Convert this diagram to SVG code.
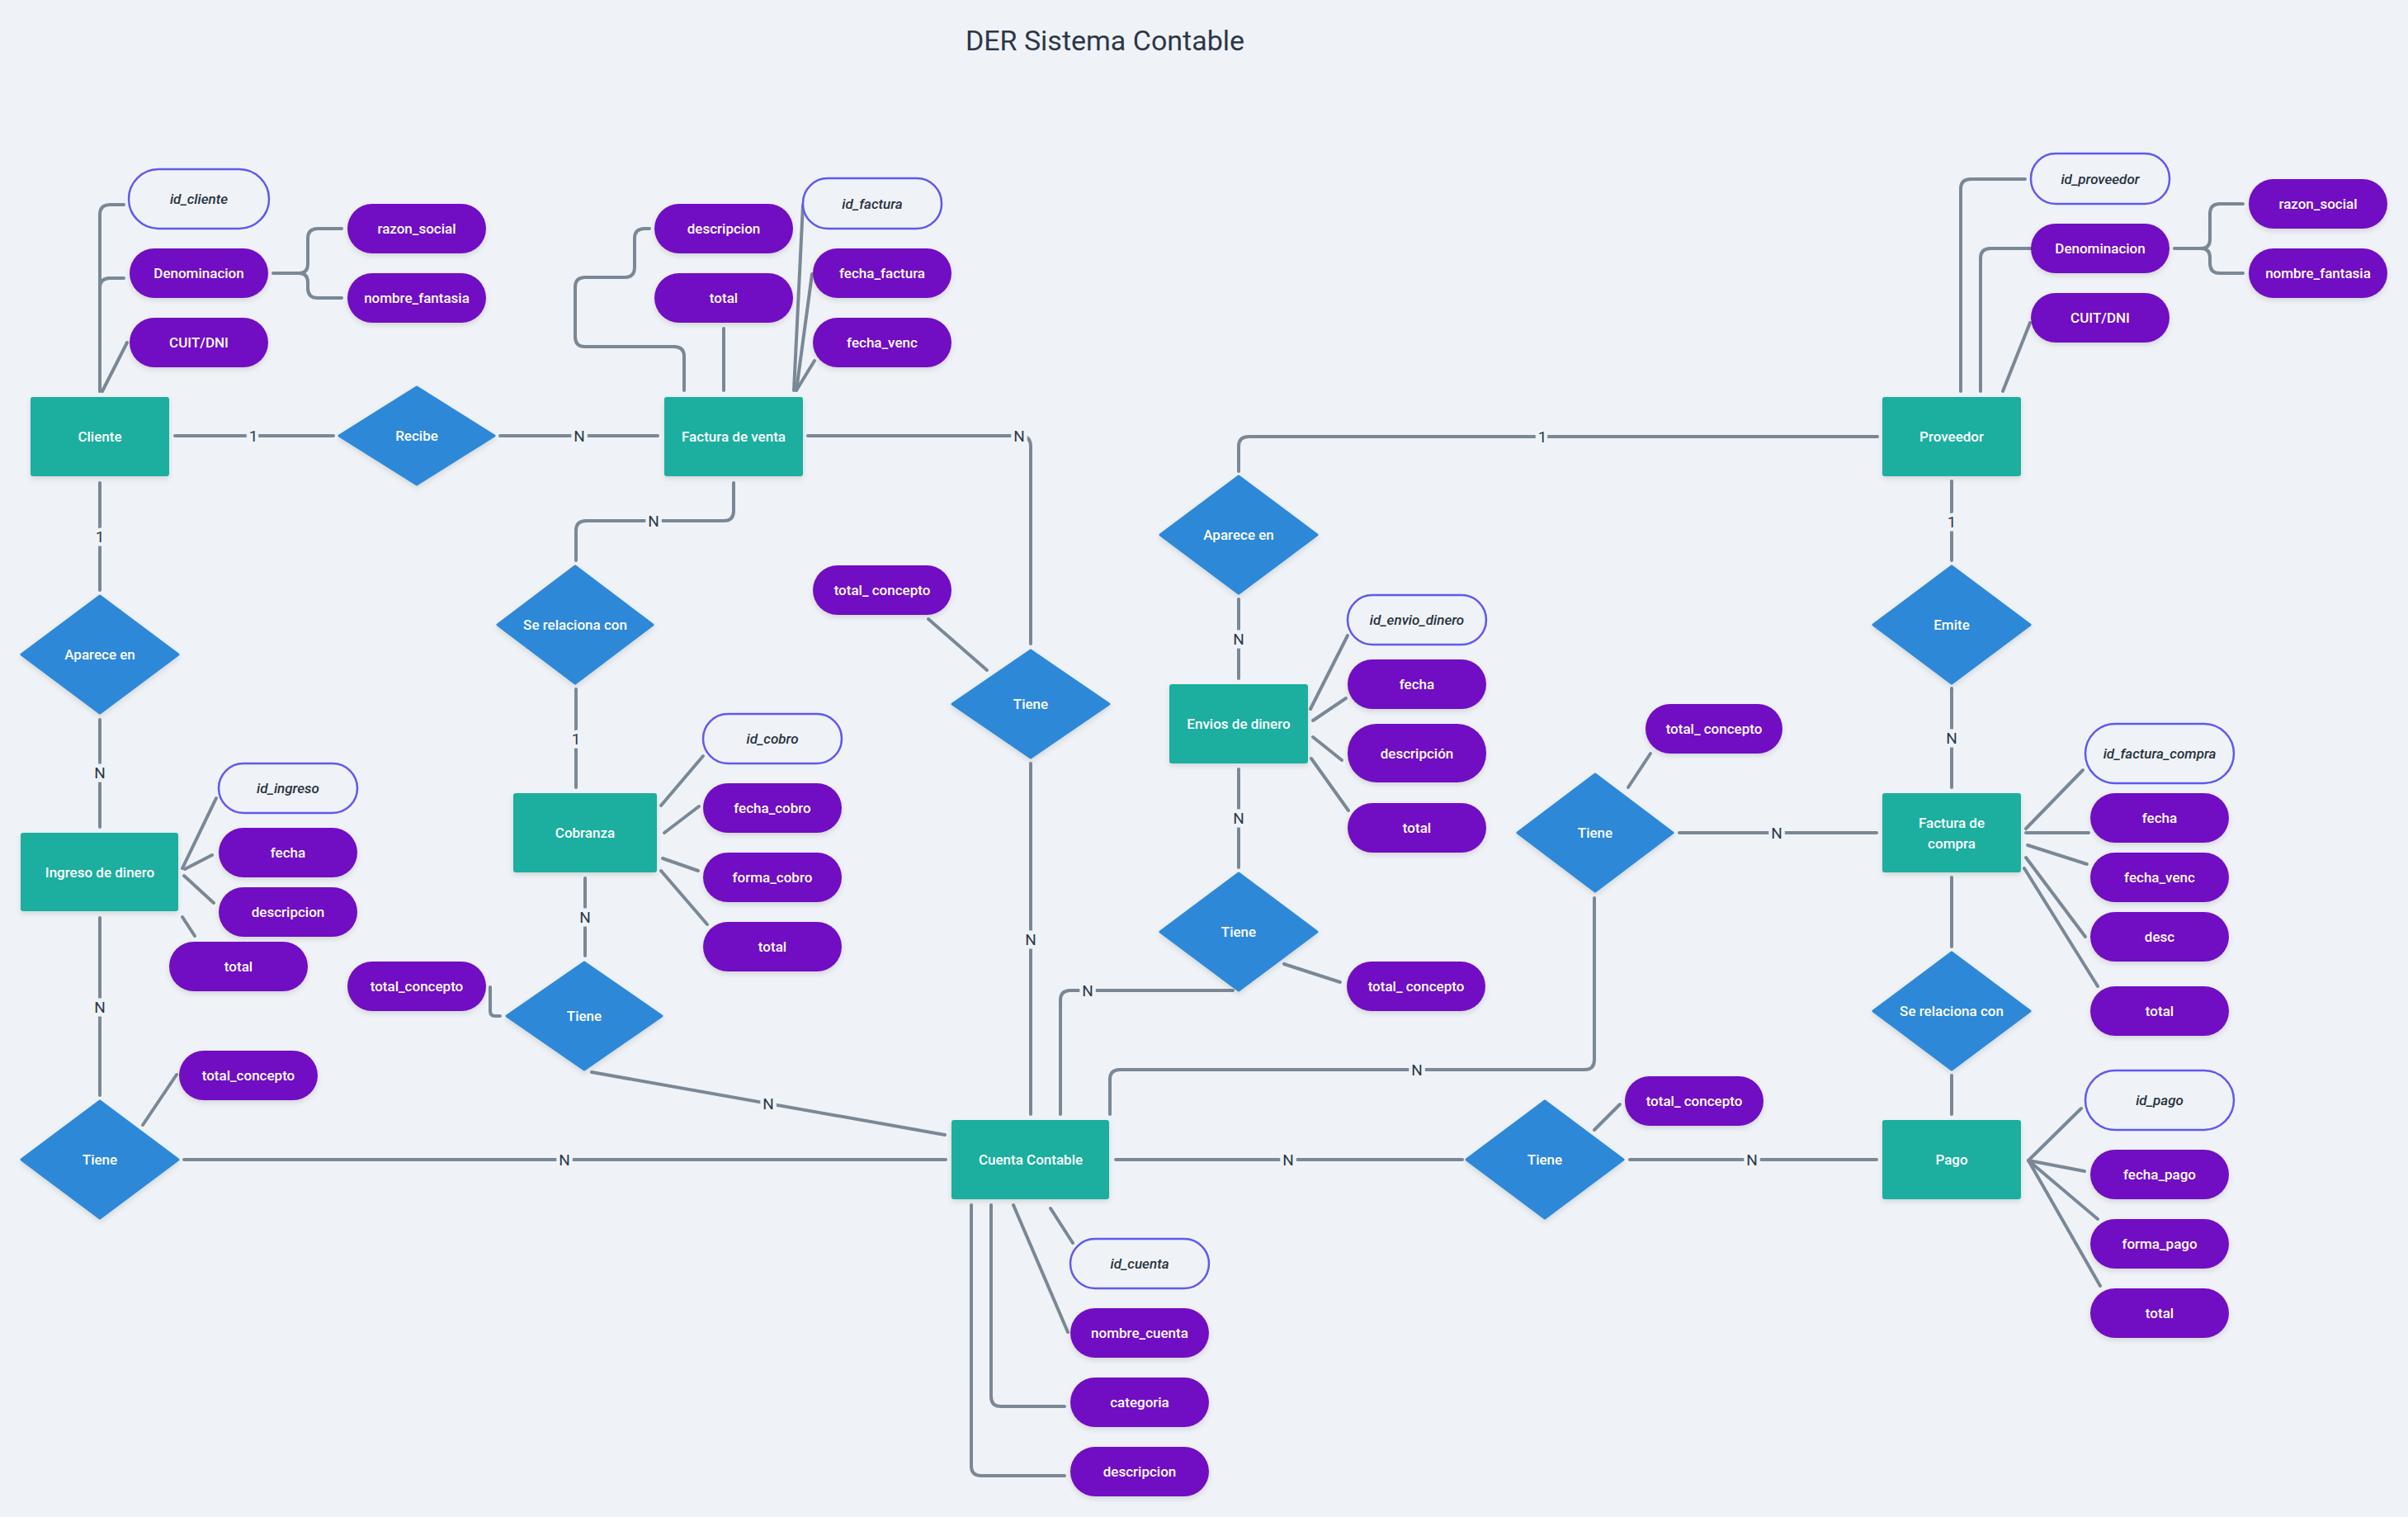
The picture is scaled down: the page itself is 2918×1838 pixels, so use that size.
<svg xmlns="http://www.w3.org/2000/svg" width="2918" height="1838" viewBox="0 0 2918 1838">
<style>
.bg{fill:#eff3f7}
.ent{fill:#1aae9f;filter:url(#sh)}
.rel{fill:#2e88d8;stroke:#2e88d8;stroke-width:3;stroke-linejoin:round;filter:url(#sh)}
.att{fill:#7110c2;filter:url(#sh)}
.key{fill:#eff3f7;stroke:#6158f0;stroke-width:2.5}
.t{font-family:Roboto,"Liberation Sans",sans-serif;font-size:17px;font-weight:500;fill:#ffffff;text-anchor:middle;dominant-baseline:central}
.tk{font-family:Roboto,"Liberation Sans",sans-serif;font-size:17px;font-weight:500;font-style:italic;fill:#27313d;text-anchor:middle;dominant-baseline:central}
.c path{fill:none;stroke:#7a8896;stroke-width:4;stroke-linecap:round;stroke-linejoin:round}
.lb{font-family:Roboto,"Liberation Sans",sans-serif;font-size:19px;fill:#2d3748;text-anchor:middle;dominant-baseline:central;stroke:#eff3f7;stroke-width:9;paint-order:stroke}
.title{font-family:Roboto,"Liberation Sans",sans-serif;font-size:34px;fill:#2d3748;text-anchor:middle}
</style>
<defs>
<filter id="sh" x="-20%" y="-20%" width="140%" height="150%">
<feDropShadow dx="0" dy="3" stdDeviation="3" flood-color="#000" flood-opacity="0.12"/>
</filter>
</defs>
<rect class="bg" x="0" y="0" width="2918" height="1838"/>
<text class="title" x="1339" y="61">DER Sistema Contable</text>

<g id="connectors" class="c">
<!-- Cliente -->
<path d="M121,474 V260 Q121,248 133,248 H150"/>
<path d="M121,474 V349 Q121,337 133,337 H150"/>
<path d="M124,474 L154,415"/>
<path d="M331,331 H362 Q373,331 373,320 V289 Q373,277 385,277 H414"/>
<path d="M362,331 Q373,331 373,342 V349 Q373,361 385,361 H414"/>
<path d="M212,528 H404"/>
<path d="M606,528 H797"/>
<path d="M121,585 V715"/>
<path d="M121,872 V1002"/>
<path d="M121,1112 V1327"/>
<path d="M223,1405 H1146"/>
<path d="M173,1363 L214,1302"/>
<path d="M221,1052 L262,967"/>
<path d="M224,1053 L257,1036"/>
<path d="M223,1061 L259,1094"/>
<path d="M221,1111 L236,1134"/>
<!-- Factura de venta -->
<path d="M829,473 V432 Q829,420 817,420 H709 Q697,420 697,408 V348 Q697,336 709,336 H757 Q769,336 769,324 V289 Q769,277 781,277 H787"/>
<path d="M877,398 V473"/>
<path d="M962,473 L973,248"/>
<path d="M965,473 L984,332"/>
<path d="M965,473 L987,437"/>
<path d="M979,528 H1236 Q1249,528 1249,541 V780"/>
<path d="M889,585 V619 Q889,631 877,631 H710 Q698,631 698,643 V679"/>
<path d="M698,835 V954"/>
<!-- Cobranza -->
<path d="M801,976 L852,916"/>
<path d="M805,1009 L847,977"/>
<path d="M803,1040 L846,1055"/>
<path d="M801,1055 L857,1120"/>
<path d="M709,1064 V1158"/>
<path d="M594,1196 V1225 Q594,1231 600,1231 H606"/>
<path d="M717,1299 L1145,1375"/>
<!-- Centro -->
<path d="M1125,750 L1196,812"/>
<path d="M1249,925 V1350"/>
<path d="M1285,1350 V1212 Q1285,1200 1297,1200 H1494"/>
<path d="M1345,1350 V1308 Q1345,1296 1357,1296 H1920 Q1932,1296 1932,1284 V1088"/>
<path d="M1352,1405 H1772"/>
<path d="M1975,1405 H2274"/>
<path d="M1932,1369 L1963,1338"/>
<!-- Cuenta Contable -->
<path d="M1273,1464 L1300,1506"/>
<path d="M1228,1460 L1294,1614"/>
<path d="M1201,1460 V1692 Q1201,1704 1213,1704 H1290"/>
<path d="M1177,1460 V1776 Q1177,1788 1189,1788 H1290"/>
<!-- Envios -->
<path d="M2275,529 H1513 Q1501,529 1501,541 V571"/>
<path d="M1501,726 V822"/>
<path d="M1501,932 V1051"/>
<path d="M1588,859 L1633,770"/>
<path d="M1591,873 L1631,846"/>
<path d="M1591,893 L1626,921"/>
<path d="M1589,919 L1634,982"/>
<path d="M1556,1168 L1624,1190"/>
<!-- Proveedor -->
<path d="M2376,474 V229 Q2376,217 2388,217 H2454"/>
<path d="M2400,474 V313 Q2400,301 2412,301 H2463"/>
<path d="M2427,474 L2460,391"/>
<path d="M2635,301 H2667 Q2678,301 2678,290 V259 Q2678,247 2690,247 H2718"/>
<path d="M2667,301 Q2678,301 2678,312 V319 Q2678,331 2690,331 H2718"/>
<path d="M2365,583 V679"/>
<path d="M2365,834 V954"/>
<path d="M2035,1009 H2274"/>
<path d="M1973,954 L2000,913"/>
<path d="M2365,1063 V1147"/>
<path d="M2365,1303 V1350"/>
<!-- Factura de compra -->
<path d="M2455,1004 L2524,933"/>
<path d="M2455,1009 H2531"/>
<path d="M2457,1024 L2529,1047"/>
<path d="M2455,1039 L2527,1135"/>
<path d="M2453,1052 L2542,1195"/>
<!-- Pago -->
<path d="M2458,1406 L2522,1343"/>
<path d="M2458,1406 L2526,1419"/>
<path d="M2458,1406 L2542,1477"/>
<path d="M2458,1406 L2545,1558"/>
<!-- labels -->
<text class="lb" x="307" y="528">1</text>
<text class="lb" x="702" y="528">N</text>
<text class="lb" x="121" y="650">1</text>
<text class="lb" x="121" y="936">N</text>
<text class="lb" x="121" y="1220">N</text>
<text class="lb" x="684" y="1405">N</text>
<text class="lb" x="1235" y="528">N</text>
<text class="lb" x="792" y="631">N</text>
<text class="lb" x="698" y="895">1</text>
<text class="lb" x="709" y="1111">N</text>
<text class="lb" x="931" y="1337">N</text>
<text class="lb" x="1249" y="1138">N</text>
<text class="lb" x="1318" y="1200">N</text>
<text class="lb" x="1717" y="1296">N</text>
<text class="lb" x="1561" y="1405">N</text>
<text class="lb" x="2123" y="1405">N</text>
<text class="lb" x="1869" y="529">1</text>
<text class="lb" x="1501" y="774">N</text>
<text class="lb" x="1501" y="991">N</text>
<text class="lb" x="2365" y="632">1</text>
<text class="lb" x="2365" y="894">N</text>
<text class="lb" x="2153" y="1009">N</text>
</g>

<!-- Entities -->
<g id="cliente"><rect class="ent" x="37" y="481" width="168" height="96" rx="3"/><text class="t" x="121" y="529">Cliente</text></g>
<g id="factura_venta"><rect class="ent" x="805" y="481" width="168" height="96" rx="3"/><text class="t" x="889" y="529">Factura de venta</text></g>
<g id="proveedor"><rect class="ent" x="2281" y="481" width="168" height="96" rx="3"/><text class="t" x="2365" y="529">Proveedor</text></g>
<g id="ingreso_dinero"><rect class="ent" x="25" y="1009" width="191" height="95" rx="3"/><text class="t" x="121" y="1057">Ingreso de dinero</text></g>
<g id="cobranza"><rect class="ent" x="622" y="961" width="174" height="96" rx="3"/><text class="t" x="709" y="1009">Cobranza</text></g>
<g id="envios_dinero"><rect class="ent" x="1417" y="829" width="168" height="96" rx="3"/><text class="t" x="1501" y="877">Envios de dinero</text></g>
<g id="factura_compra"><rect class="ent" x="2281" y="961" width="168" height="96" rx="3"/><text class="t" x="2365" y="997">Factura de</text><text class="t" x="2365" y="1022">compra</text></g>
<g id="cuenta_contable"><rect class="ent" x="1153" y="1357" width="191" height="96" rx="3"/><text class="t" x="1249" y="1405">Cuenta Contable</text></g>
<g id="pago"><rect class="ent" x="2281" y="1357" width="168" height="96" rx="3"/><text class="t" x="2365" y="1405">Pago</text></g>

<!-- Relationships -->
<g id="rel_recibe"><polygon class="rel" points="505,469 599,528 505,587 411,528"/><text class="t" x="505" y="528">Recibe</text></g>
<g id="rel_aparece_cliente"><polygon class="rel" points="121,722 216,793 121,864 26,793"/><text class="t" x="121" y="793">Aparece en</text></g>
<g id="rel_serelaciona_venta"><polygon class="rel" points="697,686 791,757 697,828 603,757"/><text class="t" x="697" y="757">Se relaciona con</text></g>
<g id="rel_tiene_venta"><polygon class="rel" points="1249,788 1344,853 1249,918 1154,853"/><text class="t" x="1249" y="853">Tiene</text></g>
<g id="rel_aparece_envio"><polygon class="rel" points="1501,577 1596,648 1501,719 1406,648"/><text class="t" x="1501" y="648">Aparece en</text></g>
<g id="rel_emite"><polygon class="rel" points="2365,686 2460,757 2365,828 2270,757"/><text class="t" x="2365" y="757">Emite</text></g>
<g id="rel_tiene_envio"><polygon class="rel" points="1501,1058 1596,1129 1501,1200 1406,1129"/><text class="t" x="1501" y="1129">Tiene</text></g>
<g id="rel_tiene_compra"><polygon class="rel" points="1933,938 2027,1009 1933,1080 1839,1009"/><text class="t" x="1933" y="1009">Tiene</text></g>
<g id="rel_serelaciona_pago"><polygon class="rel" points="2365,1154 2460,1225 2365,1296 2270,1225"/><text class="t" x="2365" y="1225">Se relaciona con</text></g>
<g id="rel_tiene_cobranza"><polygon class="rel" points="708,1166 802,1231 708,1296 614,1231"/><text class="t" x="708" y="1231">Tiene</text></g>
<g id="rel_tiene_ingreso"><polygon class="rel" points="121,1334 216,1405 121,1476 26,1405"/><text class="t" x="121" y="1405">Tiene</text></g>
<g id="rel_tiene_pago"><polygon class="rel" points="1872,1334 1967,1405 1872,1476 1777,1405"/><text class="t" x="1872" y="1405">Tiene</text></g>

<!-- Attributes: Cliente -->
<g id="a_id_cliente"><rect class="key" x="156" y="205" width="170" height="72" rx="36"/><text class="tk" x="241" y="241">id_cliente</text></g>
<g id="a_denominacion_c"><rect class="att" x="157" y="301" width="168" height="60" rx="30"/><text class="t" x="241" y="331">Denominacion</text></g>
<g id="a_cuit_c"><rect class="att" x="157" y="385" width="168" height="60" rx="30"/><text class="t" x="241" y="415">CUIT/DNI</text></g>
<g id="a_razon_c"><rect class="att" x="421" y="247" width="168" height="60" rx="30"/><text class="t" x="505" y="277">razon_social</text></g>
<g id="a_fantasia_c"><rect class="att" x="421" y="331" width="168" height="60" rx="30"/><text class="t" x="505" y="361">nombre_fantasia</text></g>
<!-- Factura de venta -->
<g id="a_desc_fv"><rect class="att" x="793" y="247" width="168" height="60" rx="30"/><text class="t" x="877" y="277">descripcion</text></g>
<g id="a_total_fv"><rect class="att" x="793" y="331" width="168" height="60" rx="30"/><text class="t" x="877" y="361">total</text></g>
<g id="a_id_factura"><rect class="key" x="973" y="216" width="168" height="61" rx="30"/><text class="tk" x="1057" y="247">id_factura</text></g>
<g id="a_fecha_factura"><rect class="att" x="985" y="301" width="168" height="60" rx="30"/><text class="t" x="1069" y="331">fecha_factura</text></g>
<g id="a_fecha_venc_fv"><rect class="att" x="985" y="385" width="168" height="60" rx="30"/><text class="t" x="1069" y="415">fecha_venc</text></g>
<!-- Ingreso -->
<g id="a_id_ingreso"><rect class="key" x="265" y="925" width="168" height="60" rx="30"/><text class="tk" x="349" y="955">id_ingreso</text></g>
<g id="a_fecha_i"><rect class="att" x="265" y="1003" width="168" height="60" rx="30"/><text class="t" x="349" y="1033">fecha</text></g>
<g id="a_desc_i"><rect class="att" x="265" y="1075" width="168" height="60" rx="30"/><text class="t" x="349" y="1105">descripcion</text></g>
<g id="a_total_i"><rect class="att" x="205" y="1141" width="168" height="60" rx="30"/><text class="t" x="289" y="1171">total</text></g>
<g id="a_tc_ingreso"><rect class="att" x="217" y="1273" width="168" height="60" rx="30"/><text class="t" x="301" y="1303">total_concepto</text></g>
<!-- Cobranza -->
<g id="a_id_cobro"><rect class="key" x="852" y="865" width="168" height="60" rx="30"/><text class="tk" x="936" y="895">id_cobro</text></g>
<g id="a_fecha_cobro"><rect class="att" x="852" y="949" width="168" height="60" rx="30"/><text class="t" x="936" y="979">fecha_cobro</text></g>
<g id="a_forma_cobro"><rect class="att" x="852" y="1033" width="168" height="60" rx="30"/><text class="t" x="936" y="1063">forma_cobro</text></g>
<g id="a_total_cobro"><rect class="att" x="852" y="1117" width="168" height="60" rx="30"/><text class="t" x="936" y="1147">total</text></g>
<g id="a_tc_cobranza"><rect class="att" x="421" y="1165" width="168" height="60" rx="30"/><text class="t" x="505" y="1195">total_concepto</text></g>
<!-- Tiene centro -->
<g id="a_tc_venta"><rect class="att" x="985" y="685" width="168" height="60" rx="30"/><text class="t" x="1069" y="715">total_ concepto</text></g>
<!-- Envios -->
<g id="a_id_envio"><rect class="key" x="1633" y="721" width="168" height="60" rx="30"/><text class="tk" x="1717" y="751">id_envio_dinero</text></g>
<g id="a_fecha_e"><rect class="att" x="1633" y="799" width="168" height="60" rx="30"/><text class="t" x="1717" y="829">fecha</text></g>
<g id="a_desc_e"><rect class="att" x="1633" y="877" width="168" height="71" rx="35"/><text class="t" x="1717" y="913">descripción</text></g>
<g id="a_total_e"><rect class="att" x="1633" y="973" width="168" height="60" rx="30"/><text class="t" x="1717" y="1003">total</text></g>
<g id="a_tc_envio"><rect class="att" x="1632" y="1165" width="168" height="60" rx="30"/><text class="t" x="1716" y="1195">total_ concepto</text></g>
<!-- Cuenta Contable -->
<g id="a_id_cuenta"><rect class="key" x="1297" y="1501" width="168" height="60" rx="30"/><text class="tk" x="1381" y="1531">id_cuenta</text></g>
<g id="a_nombre_cuenta"><rect class="att" x="1297" y="1585" width="168" height="60" rx="30"/><text class="t" x="1381" y="1615">nombre_cuenta</text></g>
<g id="a_categoria"><rect class="att" x="1297" y="1669" width="168" height="60" rx="30"/><text class="t" x="1381" y="1699">categoria</text></g>
<g id="a_desc_cc"><rect class="att" x="1297" y="1753" width="168" height="60" rx="30"/><text class="t" x="1381" y="1783">descripcion</text></g>
<g id="a_tc_pago"><rect class="att" x="1969" y="1304" width="168" height="60" rx="30"/><text class="t" x="2053" y="1334">total_ concepto</text></g>
<g id="a_tc_compra"><rect class="att" x="1994" y="853" width="166" height="60" rx="30"/><text class="t" x="2077" y="883">total_ concepto</text></g>
<!-- Proveedor -->
<g id="a_id_proveedor"><rect class="key" x="2461" y="186" width="168" height="61" rx="30"/><text class="tk" x="2545" y="217">id_proveedor</text></g>
<g id="a_denominacion_p"><rect class="att" x="2461" y="271" width="168" height="60" rx="30"/><text class="t" x="2545" y="301">Denominacion</text></g>
<g id="a_cuit_p"><rect class="att" x="2461" y="355" width="168" height="60" rx="30"/><text class="t" x="2545" y="385">CUIT/DNI</text></g>
<g id="a_razon_p"><rect class="att" x="2725" y="217" width="168" height="60" rx="30"/><text class="t" x="2809" y="247">razon_social</text></g>
<g id="a_fantasia_p"><rect class="att" x="2725" y="301" width="168" height="60" rx="30"/><text class="t" x="2809" y="331">nombre_fantasia</text></g>
<!-- Factura de compra -->
<g id="a_id_fc"><rect class="key" x="2527" y="877" width="180" height="72" rx="36"/><text class="tk" x="2617" y="913">id_factura_compra</text></g>
<g id="a_fecha_fc"><rect class="att" x="2533" y="961" width="168" height="60" rx="30"/><text class="t" x="2617" y="991">fecha</text></g>
<g id="a_venc_fc"><rect class="att" x="2533" y="1033" width="168" height="60" rx="30"/><text class="t" x="2617" y="1063">fecha_venc</text></g>
<g id="a_desc_fc"><rect class="att" x="2533" y="1105" width="168" height="60" rx="30"/><text class="t" x="2617" y="1135">desc</text></g>
<g id="a_total_fc"><rect class="att" x="2533" y="1195" width="168" height="60" rx="30"/><text class="t" x="2617" y="1225">total</text></g>
<!-- Pago -->
<g id="a_id_pago"><rect class="key" x="2527" y="1297" width="180" height="72" rx="36"/><text class="tk" x="2617" y="1333">id_pago</text></g>
<g id="a_fecha_pago"><rect class="att" x="2533" y="1393" width="168" height="60" rx="30"/><text class="t" x="2617" y="1423">fecha_pago</text></g>
<g id="a_forma_pago"><rect class="att" x="2533" y="1477" width="168" height="60" rx="30"/><text class="t" x="2617" y="1507">forma_pago</text></g>
<g id="a_total_pago"><rect class="att" x="2533" y="1561" width="168" height="60" rx="30"/><text class="t" x="2617" y="1591">total</text></g>
</svg>
